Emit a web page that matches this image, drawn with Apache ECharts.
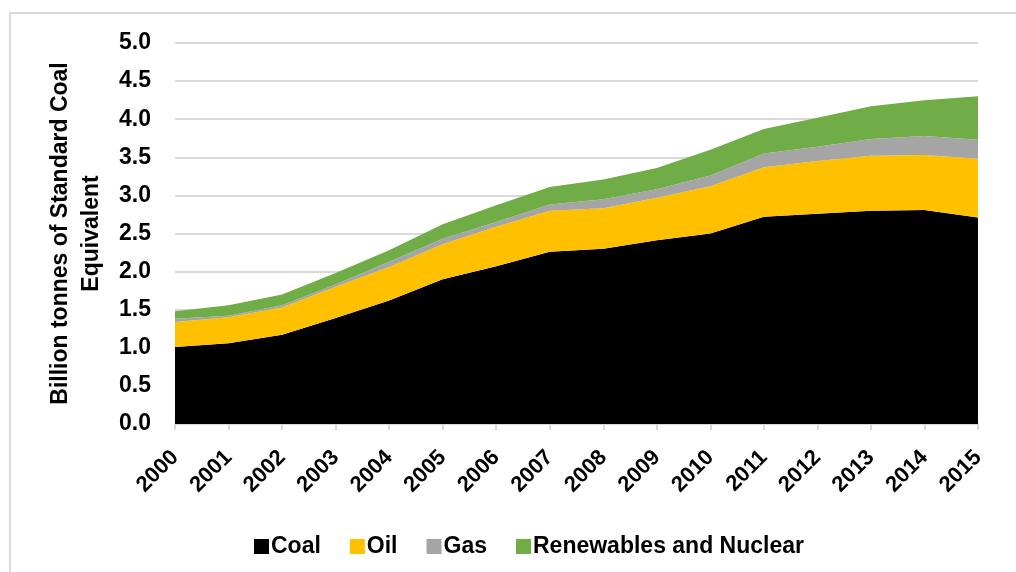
<!DOCTYPE html>
<html>
<head>
<meta charset="utf-8">
<script src="https://cdn.jsdelivr.net/npm/echarts@6/dist/echarts.min.js"></script>
<style>
  html, body { margin: 0; padding: 0; background: #fff; }
  #chart { width: 1016px; height: 572px; }
</style>
</head>
<body>
<div id="chart"></div>
<script>
// years on the x axis
const years = ['2000','2001','2002','2003','2004','2005','2006','2007',
               '2008','2009','2010','2011','2012','2013','2014','2015'];
// stacked layers, billion tonnes of standard coal equivalent
const coal = [1.01,1.06,1.17,1.39,1.62,1.90,2.07,2.26,2.30,2.41,2.50,2.72,2.76,2.80,2.81,2.71];
const oil = [0.33,0.34,0.36,0.41,0.44,0.46,0.52,0.54,0.53,0.56,0.62,0.65,0.69,0.72,0.72,0.77];
const gas = [0.04,0.02,0.03,0.03,0.07,0.07,0.06,0.08,0.12,0.11,0.14,0.18,0.19,0.22,0.25,0.25];
const renewables = [0.10,0.14,0.14,0.15,0.15,0.19,0.22,0.23,0.26,0.28,0.34,0.32,0.38,0.43,0.47,0.57];

const font = 'Liberation Sans';

const chart = echarts.init(document.getElementById('chart'));

function layer(name, data, color) {
  return {
    name: name,
    type: 'line',
    stack: 'total',
    data: data,
    showSymbol: false,
    lineStyle: { width: 0 },
    areaStyle: { color: color, opacity: 1 },
    itemStyle: { color: color },
    emphasis: { disabled: true }
  };
}

const option = {
  animation: false,
  textStyle: { fontFamily: font },
  graphic: [{
    type: 'rect',
    shape: { x: 10, y: 13, width: 1200, height: 800 },
    style: { fill: 'none', stroke: '#d9d9d9', lineWidth: 2 },
    silent: true
  }],
  grid: { left: 175, right: 38, top: 43, bottom: 148 },
  legend: {
    left: 249,
    top: 530,
    itemWidth: 15,
    itemHeight: 15,
    itemGap: 29,
    icon: 'rect',
    textStyle: { fontFamily: font, fontWeight: 'bold', fontSize: 23, color: '#000', padding: [0, 0, 0, -3] },
    data: ['Coal', 'Oil', 'Gas', 'Renewables and Nuclear']
  },
  xAxis: {
    type: 'category',
    data: years,
    boundaryGap: false,
    axisLine: { lineStyle: { color: '#d9d9d9', width: 2 } },
    axisTick: { show: true, alignWithLabel: true, length: 6, lineStyle: { color: '#d9d9d9', width: 2 } },
    axisLabel: {
      rotate: 45,
      margin: 30,
      interval: 0,
      fontFamily: font,
      fontWeight: 'bold',
      fontSize: 22,
      color: '#000'
    },
    splitLine: { show: false }
  },
  yAxis: {
    type: 'value',
    min: 0,
    max: 5,
    interval: 0.5,
    name: 'Billion tonnes of Standard Coal\nEquivalent',
    nameLocation: 'middle',
    nameGap: 68,
    nameTextStyle: { fontFamily: font, fontWeight: 'bold', fontSize: 23, color: '#000', lineHeight: 31 },
    axisLine: { show: false },
    axisTick: { show: false },
    axisLabel: {
      margin: 24,
      fontFamily: font,
      fontWeight: 'bold',
      fontSize: 23,
      color: '#000',
      formatter: v => v.toFixed(1)
    },
    splitLine: { lineStyle: { color: '#d9d9d9', width: 2 } }
  },
  series: [
    layer('Coal', coal, '#000000'),
    layer('Oil', oil, '#FFC000'),
    layer('Gas', gas, '#A5A5A5'),
    layer('Renewables and Nuclear', renewables, '#70AD47')
  ]
};

chart.setOption(option);
</script>
</body>
</html>
